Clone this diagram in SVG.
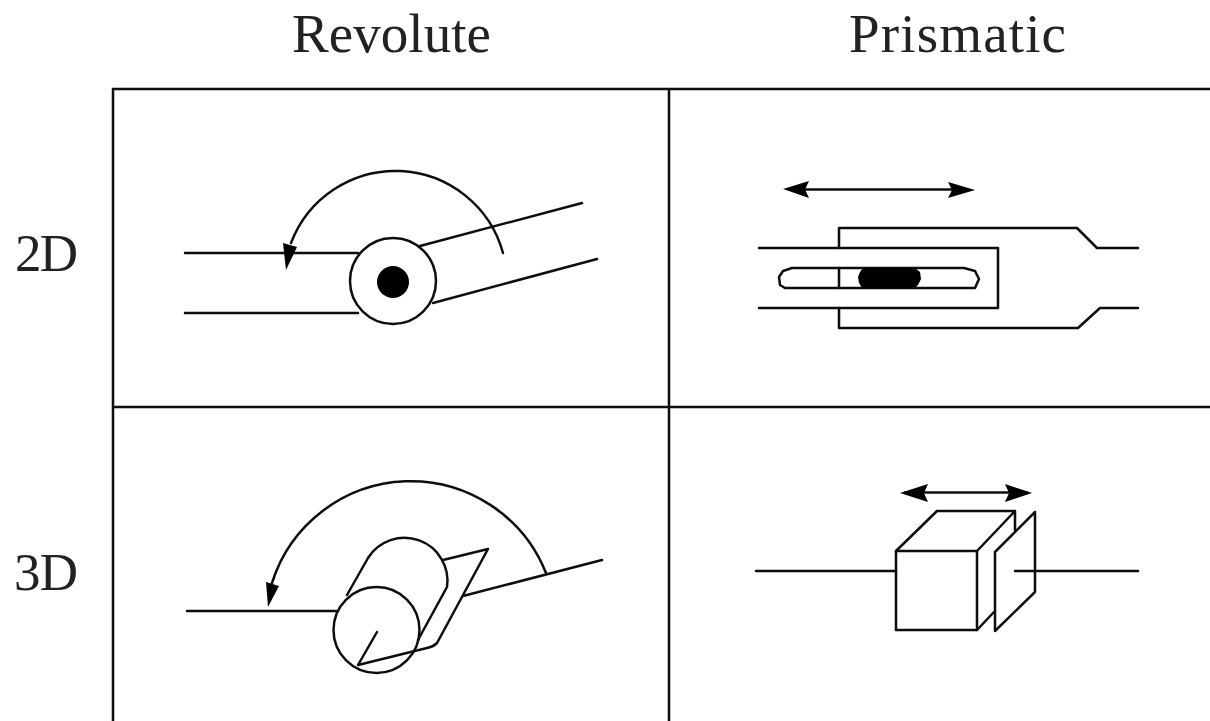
<svg xmlns="http://www.w3.org/2000/svg" width="1210" height="721" viewBox="0 0 1210 721">
<style>
.l{fill:none;stroke:#111;stroke-width:2.5;stroke-linejoin:round;stroke-linecap:round}
.k{fill:#000;stroke:none}
.t{font-family:"Liberation Serif","Times New Roman",serif;font-size:55px;fill:#222}
.s{font-size:53px}
.soft{filter:url(#soft)}
</style>
<defs><filter id="soft" x="0" y="0" width="100%" height="100%"><feGaussianBlur stdDeviation="0.45"/></filter></defs>
<rect width="1210" height="721" fill="#fff"/>
<g class="soft">
<g id="labels">
<text class="t" x="292" y="52" textLength="199" lengthAdjust="spacing">Revolute</text>
<text class="t" x="849" y="52" textLength="217" lengthAdjust="spacing">Prismatic</text>
<text class="t s" x="15" y="271" textLength="63" lengthAdjust="spacing">2D</text>
<text class="t s" x="14" y="590" textLength="64" lengthAdjust="spacing">3D</text>
</g>
<g id="grid">
<path class="l" d="M113 721V89H1210M669 89V721M113 407H1210" stroke-linecap="butt"/>
</g>
<g id="revolute-2d">
<path class="l" d="M185 253H358M185 313H358M420 246L582 203M433 303L597 259"/>
<circle class="l" cx="393" cy="281" r="43"/>
<circle class="k" cx="393" cy="282" r="16"/>
<path class="l" d="M503 253A111.600 111.600 0 0 0 291 243"/>
<path class="k" d="M283 243L297 247L286 270Z"/>
</g>
<g id="prismatic-2d">
<path class="l" d="M790 189.500H968"/>
<path class="k" d="M783 189L809 181L805 189.500L809 198Z"/>
<path class="k" d="M975 190L948 182L952 190L948 198Z"/>
<path class="l" d="M839 248V228H1077L1097 248H1138M839 308V328H1078L1100 308H1138"/>
<path class="l" d="M759 248H998V308H759"/>
<path class="l" d="M792 268H964L975 271L979 279L975 288H785L780 285L779 277L783 271Z"/>
<path class="l" d="M839 268V288"/>
<path class="k" d="M863 268H915L920 272L921 279L918 285L915 288H862L859 283L858 277L860 272Z"/>
</g>
<g id="revolute-3d">
<path class="l" d="M187 611H336M463 596L602 560"/>
<path class="l" d="M546 573A145.500 145.500 0 0 0 272 583"/>
<path class="k" d="M266 582L279 586L268 607Z"/>
<circle class="l" cx="376.500" cy="630" r="43"/>
<path class="l" d="M347 595L368 558A43 43 0 0 1 447 587L418 640"/>
<path class="l" d="M443 560L488 549L437 643Q433 647 427 648L358 665L377 632"/>
</g>
<g id="prismatic-3d">
<path class="l" d="M905 492.500H1027"/>
<path class="k" d="M900 493L928 484L924 493L928 502Z"/>
<path class="k" d="M1032 493L1005 484L1009 493L1005 502Z"/>
<path class="l" d="M756 571H896"/>
<rect class="l" x="896" y="551" width="81" height="79"/>
<path class="l" d="M896 551L937 511H1015L977 551M1015 511V530M977 630L994 612"/>
<path class="l" d="M995 552L1035 512V592L995 631Z"/>
<path class="l" d="M1015 571H1138"/>
</g>
</g>
</svg>
